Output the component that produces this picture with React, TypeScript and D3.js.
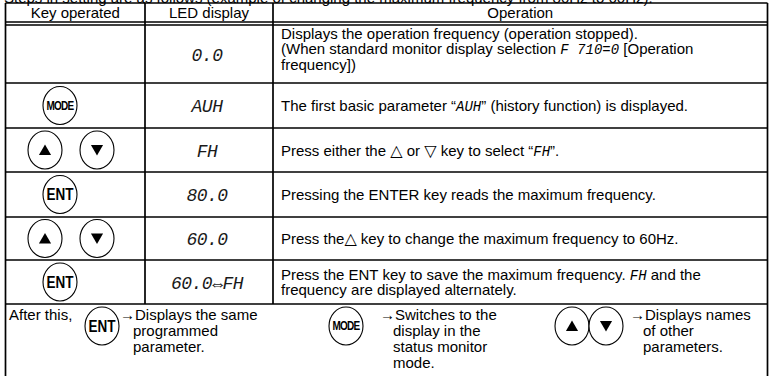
import React from 'react';
import * as d3 from 'd3';

// ---------- data (text content) ----------
const caption = 'Steps in setting are as follows (example of changing the maximum frequency from 80Hz to 60Hz).';
const headers = ['Key operated', 'LED display', 'Operation'];
const keyRows: string[][] = [[], ['MODE'], ['UP', 'DOWN'], ['ENT'], ['UP', 'DOWN'], ['ENT']];
const ledRows = ['0.0', 'AUH', 'FH', '80.0', '60.0', '60.0⇔FH'];
type Seg = { t: string; led?: boolean; sym?: boolean };
const opRows: Seg[][][] = [
  [
    [{ t: 'Displays the operation frequency (operation stopped).' }],
    [{ t: '(When standard monitor display selection ' }, { t: 'F 710=0', led: true }, { t: ' [Operation' }],
    [{ t: 'frequency])' }],
  ],
  [[{ t: 'The first basic parameter “' }, { t: 'AUH', led: true }, { t: '” (history function) is displayed.' }]],
  [[{ t: 'Press either the ' }, { t: '△', sym: true }, { t: ' or ' }, { t: '▽', sym: true }, { t: ' key to select “' }, { t: 'FH', led: true }, { t: '”.' }]],
  [[{ t: 'Pressing the ENTER key reads the maximum frequency.' }]],
  [[{ t: 'Press the' }, { t: '△', sym: true }, { t: ' key to change the maximum frequency to 60Hz.' }]],
  [
    [{ t: 'Press the ENT key to save the maximum frequency. ' }, { t: 'FH', led: true }, { t: ' and the' }],
    [{ t: 'frequency are displayed alternately.' }],
  ],
];
const afterLabel = 'After this,';
const afterKeys: string[][] = [['ENT'], ['MODE'], ['UP', 'DOWN']];
const afterTexts: string[][] = [
  ['→Displays the same', 'programmed', 'parameter.'],
  ['→Switches to the', 'display in the', 'status monitor', 'mode.'],
  ['→Displays names', 'of other', 'parameters.'],
];

// ---------- layout ----------
const W = 772;
const H = 376;
const FONT = "'Liberation Sans', Arial, Helvetica, sans-serif";
const LEDFONT = "'Liberation Mono', 'DejaVu Sans Mono', monospace";
const FS = 15;
const LH = 15.5;
const colEdges = [5.5, 145, 273, 767.5];
const tableTop = 3;
const headerBottom = 22;
const bodyTop = 25;
const rowHeights = [58, 45, 44, 45, 43, 44];
const rowEdges = [bodyTop, ...Array.from(d3.cumsum(rowHeights)).map((v) => bodyTop + v)];
const colMid = (i: number) => (colEdges[i] + colEdges[i + 1]) / 2;
const RX = 17;
const RY = 19;

const triUp = d3.symbol().type(d3.symbolTriangle).size(64)() as string;

function Key({ kind, cx, cy }: { kind: string; cx: number; cy: number }) {
  return (
    <g transform={`translate(${cx},${cy})`}>
      <ellipse rx={RX} ry={RY} fill="#fff" stroke="#000" strokeWidth={1.1} />
      {kind === 'MODE' && (
        <text transform="translate(0,4.4) scale(1,1.3)" textAnchor="middle" fontFamily={FONT} fontWeight="bold" fontSize={10} letterSpacing={-0.7}>
          MODE
        </text>
      )}
      {kind === 'ENT' && (
        <text transform="translate(0,5.8) scale(1,1.2)" textAnchor="middle" fontFamily={FONT} fontWeight="bold" fontSize={13.5}>
          ENT
        </text>
      )}
      {kind === 'UP' && <path d={triUp} transform="translate(0,1.5)" fill="#000" />}
      {kind === 'DOWN' && <path d={triUp} transform="translate(0,-1.5) rotate(180)" fill="#000" />}
    </g>
  );
}

function Line({ segs, x, y }: { segs: Seg[]; x: number; y: number }) {
  return (
    <text x={x} y={y} fontFamily={FONT} fontSize={FS} fill="#000">
      {segs.map((s, i) =>
        s.led ? (
          <tspan key={i} fontFamily={LEDFONT} fontStyle="italic" fontSize={14} letterSpacing={0}>
            {s.t}
          </tspan>
        ) : s.sym ? (
          <tspan key={i} fontSize={16} fontFamily="'DejaVu Sans', sans-serif">
            {s.t}
          </tspan>
        ) : (
          <tspan key={i}>{s.t}</tspan>
        )
      )}
    </text>
  );
}

export default function App() {
  const lastTop = rowEdges[rowEdges.length - 1];
  const hline = (y: number, w = 1.7) => (
    <line x1={colEdges[0]} y1={y} x2={colEdges[3]} y2={y} stroke="#000" strokeWidth={w} />
  );
  const vline = (x: number, y1: number, y2: number) => (
    <line x1={x} y1={y1} x2={x} y2={y2} stroke="#000" strokeWidth={1.7} />
  );
  const keyX: Record<string, number[]> = { one: [60], two: [45, 97] };
  return (
    <div style={{ position: 'absolute', left: 0, top: 0 }}>
      <svg width={W} height={H} viewBox={`0 0 ${W} ${H}`} style={{ display: 'block', background: '#fff' }}>
        <rect width={W} height={H} fill="#fff" />
        <text x={4} y={2.5} fontFamily={FONT} fontSize={FS}>
          {caption}
        </text>
        {headers.map((h, i) => (
          <text key={h} x={colMid(i)} y={18} textAnchor="middle" fontFamily={FONT} fontSize={FS}>
            {h}
          </text>
        ))}
        {ledRows.map((led, i) => {
          const top = rowEdges[i];
          const bottom = rowEdges[i + 1];
          const mid = (top + bottom) / 2;
          const ops = opRows[i];
          const firstBase = i === 0 ? top + 13.5 : mid - ((ops.length - 1) * LH) / 2 + 5.5;
          const ledY = i === 0 ? top + 36 : mid + 6.5;
          const keys = keyRows[i];
          const xs = keys.length > 1 ? keyX.two : keyX.one;
          return (
            <g key={i}>
              {keys.map((k, j) => (
                <Key key={j} kind={k} cx={xs[j]} cy={mid} />
              ))}
              <text x={colMid(1) - 2} y={ledY} textAnchor="middle" fontFamily={LEDFONT} fontStyle="italic" fontSize={18} letterSpacing={-0.5} fill="#1a1a1a">
                {led}
              </text>
              {ops.map((segs, j) => (
                <Line key={j} segs={segs} x={281} y={firstBase + j * LH} />
              ))}
            </g>
          );
        })}
        <text x={9} y={lastTop + 16} fontFamily={FONT} fontSize={FS}>
          {afterLabel}
        </text>
        {afterKeys.map((keys, g) => {
          const xs = [[102], [346], [572, 606]][g];
          return keys.map((k, j) => <Key key={`${g}-${j}`} kind={k} cx={xs[j]} cy={lastTop + 22} />);
        })}
        {afterTexts.map((lines, g) => {
          const gx = [120, 380, 630][g];
          return lines.map((t, j) => (
            <text key={`${g}-${j}`} x={j === 0 ? gx : gx + 13} y={lastTop + 16 + j * 16} fontFamily={FONT} fontSize={FS}>
              {t}
            </text>
          ));
        })}
        {hline(tableTop)}
        {hline(headerBottom, 1.3)}
        {hline(bodyTop, 1.3)}
        {rowEdges.slice(1).map((y, i) => (
          <React.Fragment key={i}>{hline(y)}</React.Fragment>
        ))}
        {vline(colEdges[0], tableTop, H)}
        {vline(colEdges[3], tableTop, H)}
        {vline(colEdges[1], tableTop, lastTop)}
        {vline(colEdges[2], tableTop, lastTop)}
      </svg>
    </div>
  );
}
